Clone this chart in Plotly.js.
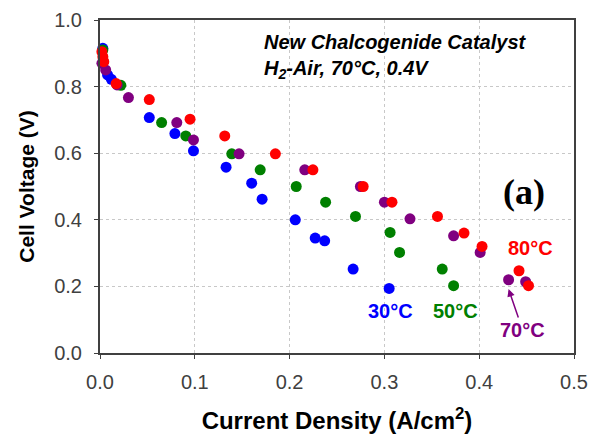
<!DOCTYPE html>
<html>
<head>
<meta charset="utf-8">
<script src="https://cdn.plot.ly/plotly-3.0.1.min.js"></script>
<style>html,body{margin:0;padding:0;background:#fff;}#chart{width:593px;height:438px;}</style>
</head>
<body>
<div id="chart"></div>
<script>
const x30 = [0.003, 0.008, 0.012, 0.052, 0.079, 0.0986, 0.133, 0.160, 0.171, 0.206, 0.227, 0.237, 0.267, 0.305];
const y30 = [0.915, 0.835, 0.822, 0.707, 0.659, 0.607, 0.558, 0.510, 0.462, 0.400, 0.345, 0.337, 0.252, 0.194];

const x50 = [0.003, 0.022, 0.065, 0.0905, 0.139, 0.169, 0.207, 0.238, 0.2695, 0.306, 0.316, 0.361, 0.373];
const y50 = [0.910, 0.804, 0.692, 0.652, 0.598, 0.550, 0.500, 0.453, 0.410, 0.362, 0.302, 0.252, 0.202];

const x70 = [0.002, 0.006, 0.018, 0.030, 0.081, 0.0986, 0.1467, 0.216, 0.2747, 0.300, 0.327, 0.373, 0.401, 0.431, 0.449];
const y70 = [0.870, 0.850, 0.805, 0.767, 0.692, 0.640, 0.598, 0.550, 0.500, 0.453, 0.403, 0.352, 0.302, 0.220, 0.214];

const x80 = [0.002, 0.003, 0.004, 0.017, 0.052, 0.095, 0.1316, 0.185, 0.2246, 0.2776, 0.308, 0.356, 0.384, 0.403, 0.442, 0.452];
const y80 = [0.905, 0.890, 0.875, 0.809, 0.761, 0.702, 0.652, 0.598, 0.550, 0.500, 0.453, 0.410, 0.360, 0.320, 0.247, 0.202];

const seriesNames = ['30°C', '50°C', '70°C', '80°C'];
const seriesColors = ['#0000FF', '#008000', '#800080', '#FF0000'];
const xs = [x30, x50, x70, x80];
const ys = [y30, y50, y70, y80];

const xTicks = [0, 0.1, 0.2, 0.3, 0.4, 0.5];
const xTickText = ['0.0', '0.1', '0.2', '0.3', '0.4', '0.5'];
const yTicks = [0, 0.2, 0.4, 0.6, 0.8, 1.0];
const yTickText = ['0.0', '0.2', '0.4', '0.6', '0.8', '1.0'];

const traces = xs.map((x, i) => ({
  x: x, y: ys[i], name: seriesNames[i], type: 'scatter', mode: 'markers',
  marker: {color: seriesColors[i], size: 11, line: {width: 0}},
  cliponaxis: false
}));

const font = 'Liberation Sans, Arial, sans-serif';
const axisCommon = {
  showline: true, linecolor: '#404040', linewidth: 2, mirror: true,
  showgrid: true, gridcolor: '#c8c8c8', griddash: 'dot', gridwidth: 1,
  zeroline: false, ticks: 'outside', ticklen: 4, tickcolor: '#404040', tickwidth: 1,
  tickfont: {family: font, size: 20, color: '#404040'}
};

const layout = {
  width: 593, height: 438,
  margin: {l: 100, r: 19, t: 20, b: 85},
  paper_bgcolor: '#fff', plot_bgcolor: '#fff',
  showlegend: false,
  xaxis: Object.assign({}, axisCommon, {
    range: [0, 0.5], tickvals: xTicks, ticktext: xTickText, ticklabelstandoff: 6,
    title: {text: 'Current Density (A/cm<sup>2</sup>)', font: {family: font, size: 24, color: '#000', weight: 'bold'}, standoff: 20}
  }),
  yaxis: Object.assign({}, axisCommon, {
    range: [0, 1.0], tickvals: yTicks, ticktext: yTickText, ticklabelstandoff: 8,
    title: {text: 'Cell Voltage (V)', font: {family: font, size: 21, color: '#000', weight: 'bold'}, standoff: 14}
  }),
  annotations: [
    {xref: 'paper', yref: 'paper', x: 0.342, y: 0.934, xanchor: 'left', yanchor: 'middle', showarrow: false,
     text: '<b><i>New Chalcogenide Catalyst</i></b>', font: {family: font, size: 20, color: '#000'}},
    {xref: 'paper', yref: 'paper', x: 0.342, y: 0.85, xanchor: 'left', yanchor: 'middle', showarrow: false,
     text: '<b><i>H<sub>2</sub>-Air, 70°C, 0.4V</i></b>', font: {family: font, size: 20, color: '#000'}},
    {xref: 'x', yref: 'y', x: 0.447, y: 0.483, showarrow: false,
     text: '<b>(a)</b>', font: {family: 'Liberation Serif, Times New Roman, serif', size: 36, color: '#000'}},
    {xref: 'x', yref: 'y', x: 0.306, y: 0.126, showarrow: false,
     text: '30°C', font: {family: font, size: 20, color: '#0000FF', weight: 'bold'}},
    {xref: 'x', yref: 'y', x: 0.3745, y: 0.126, showarrow: false,
     text: '50°C', font: {family: font, size: 20, color: '#008000', weight: 'bold'}},
    {xref: 'x', yref: 'y', x: 0.4546, y: 0.315, showarrow: false,
     text: '80°C', font: {family: font, size: 20, color: '#FF0000', weight: 'bold'}},
    {xref: 'x', yref: 'y', x: x70[13], y: 0.192, showarrow: true, arrowhead: 2, arrowsize: 1, arrowwidth: 1.5, arrowcolor: '#800080',
     ax: 14, ay: 41, text: '70°C', font: {family: font, size: 20, color: '#800080', weight: 'bold'}}
  ]
};

Plotly.newPlot('chart', traces, layout, {displayModeBar: false, staticPlot: true});
</script>
</body>
</html>
